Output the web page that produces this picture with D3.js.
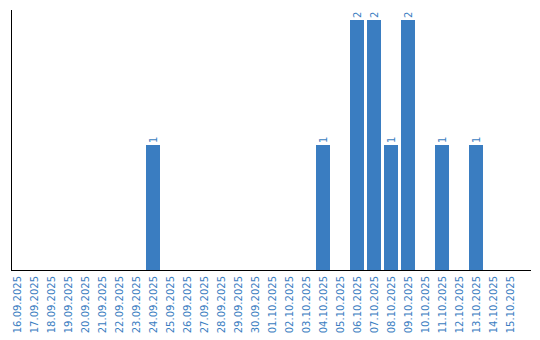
<!DOCTYPE html>
<html>
<head>
<meta charset="utf-8">
<script src="https://cdn.jsdelivr.net/npm/d3@7"></script>
<style>
  body { margin: 0; background: #fff; }
  text { font-family: "DejaVu Sans", Verdana, sans-serif; font-size: 10px; fill: #3a7dc1; }
</style>
</head>
<body>
<div id="chart"></div>
<script>
const dates = ['16.09.2025', '17.09.2025', '18.09.2025', '19.09.2025', '20.09.2025', '21.09.2025',
    '22.09.2025', '23.09.2025', '24.09.2025', '25.09.2025', '26.09.2025', '27.09.2025', '28.09.2025',
    '29.09.2025', '30.09.2025', '01.10.2025', '02.10.2025', '03.10.2025', '04.10.2025', '05.10.2025',
    '06.10.2025', '07.10.2025', '08.10.2025', '09.10.2025', '10.10.2025', '11.10.2025', '12.10.2025',
    '13.10.2025', '14.10.2025', '15.10.2025']
const counts = [0, 0, 0, 0, 0, 0, 0, 0, 1, 0, 0, 0, 0, 0, 0, 0, 0, 0, 1, 0, 2, 2, 1, 2, 0, 1, 0, 1, 0, 0]

const w = 540, h = 340
const barColor = '#3a7dc1'

const svg = d3.select('#chart')
    .append('svg')
    .attr('width', w)
    .attr('height', h)

const x = d3.scaleBand()
    .domain(dates)
    .range([10, 517])
    .paddingInner(3 / 17)
    .paddingOuter(0)

const y = d3.scaleLinear()
    .domain([0, 2])
    .range([270, 20])

// bars
svg.selectAll('rect.bar')
    .data(counts.map((c, i) => ({ d: dates[i], c })).filter(o => o.c > 0))
    .enter()
    .append('rect')
    .attr('class', 'bar')
    .attr('x', o => x(o.d))
    .attr('y', o => y(o.c))
    .attr('width', x.bandwidth())
    .attr('height', o => y(0) - y(o.c))
    .attr('fill', barColor)

// value labels
svg.selectAll('text.val')
    .data(counts.map((c, i) => ({ d: dates[i], c })).filter(o => o.c > 0))
    .enter()
    .append('text')
    .attr('class', 'val')
    .attr('transform', o => `translate(${x(o.d) + x.bandwidth() / 2 + 3.5}, ${y(o.c) - 2}) rotate(-90)`)
    .text(o => o.c)

// axes
svg.append('line')
    .attr('x1', 11.5).attr('x2', 11.5)
    .attr('y1', 10).attr('y2', 270)
    .attr('stroke', '#000')
svg.append('line')
    .attr('x1', 11).attr('x2', 531)
    .attr('y1', 270.5).attr('y2', 270.5)
    .attr('stroke', '#000')

// x labels
svg.selectAll('text.lab')
    .data(dates)
    .enter()
    .append('text')
    .attr('class', 'lab')
    .attr('text-anchor', 'end')
    .attr('transform', d => `translate(${x(d) + x.bandwidth() / 2 + 4}, 276) rotate(-90)`)
    .text(d => d)
</script>
</body>
</html>
